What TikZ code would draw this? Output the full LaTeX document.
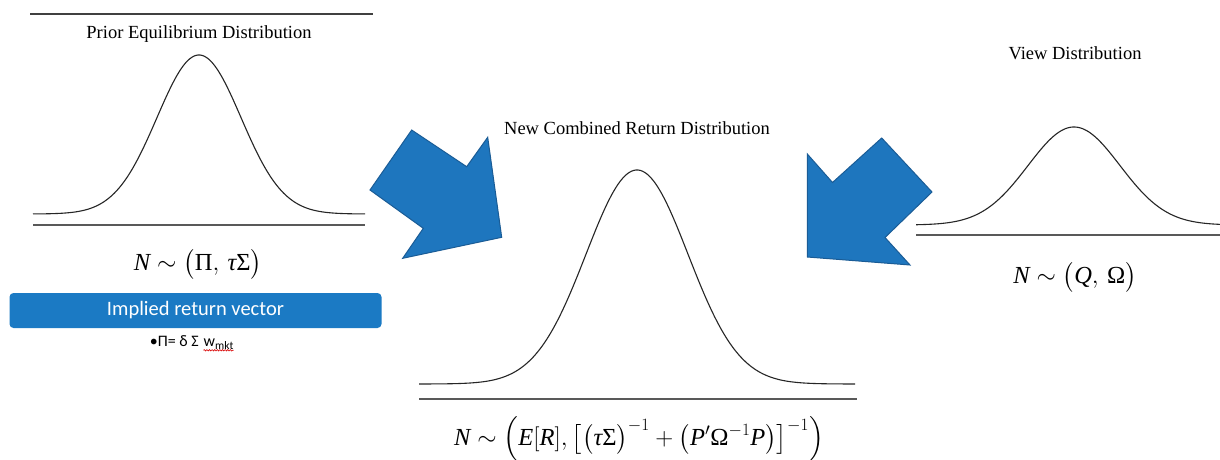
\documentclass[tikz,border=0pt]{standalone}
\usepackage{amsmath}
\usepackage{fontspec}
\setmainfont{Liberation Serif}
\newfontfamily\carl{Carlito}
\usetikzlibrary{decorations.pathmorphing}
\definecolor{arrowblue}{RGB}{30,118,190}
\definecolor{arrowedge}{RGB}{26,92,150}
\definecolor{boxblue}{RGB}{27,122,196}
\newcommand{\ti}[1]{\mbox{\itshape #1}}
\newcommand{\tu}[1]{\mbox{#1}}
\begin{document}
\begin{tikzpicture}[x=1pt,y=-1pt,
  curve/.style={line width=1.1pt, black!85},
  rule/.style={line width=1.6pt, black!65},
  title/.style={font=\fontsize{18.5}{22}\selectfont, inner sep=0pt},
  formula/.style={font=\fontsize{24.5}{29}\selectfont, inner sep=0pt},
  bigarrow/.style={fill=arrowblue, draw=arrowedge, line width=1pt, line join=miter}]
\fill[white] (0,0) rectangle (1220,459);
\useasboundingbox (0,0) rectangle (1220,459);

% ---------- Prior ----------
\draw[rule, black!75] (30,14) -- (373,14);
\node[title] (priortitle) at (199,34) {Prior Equilibrium Distribution};
\draw[curve] plot[domain=33:365, samples=160] (\x, {214 - 159*exp(-0.5*((\x-199)/42)^2)});
\draw[rule] (33,225) -- (365,225);
\node[formula] (priorf) at (198,264) {$\ti{N}\sim\bigl(\tu{Π},\,\ti{τ}\tu{Σ}\bigr)$};
\node[fill=boxblue, rounded corners=4pt, minimum width=372pt, minimum height=35pt,
      text=white, font=\carl\fontsize{20.5}{24}\selectfont, inner sep=0pt] (implied) at (195.5,310.5) {Implied return vector};
\node[font=\carl\fontsize{16}{18}\selectfont, inner sep=0pt, anchor=base east] (bullet) at (199,346) {•Π= δ Σ};
\node[font=\carl\fontsize{16}{18}\selectfont, inner sep=0pt, anchor=base west] (wmkt) at ([xshift=4.5pt]bullet.base east) {w\raisebox{-3pt}{\fontsize{11.5}{12}\selectfont mkt}};
\draw[red!85!black, line width=0.6pt, decorate, decoration={snake, amplitude=0.7pt, segment length=2.6pt}]
  ([yshift=-1pt]wmkt.south west) -- ([yshift=-1pt]wmkt.south east);

% ---------- Combined ----------
\node[title] (newtitle) at (637,128) {New Combined Return Distribution};
\draw[curve] plot[domain=419:855, samples=200] (\x, {384 - 214*exp(-0.5*((\x-637)/51)^2)});
\draw[rule] (419,399) -- (857,399);
\node[formula] (newf) at (639,439) {$\ti{N}\sim\Bigl(\ti{E}[\ti{R}],\bigl[\bigl(\ti{τ}\tu{Σ}\bigr)^{-1}+\bigl(\ti{P}'\tu{Ω}^{-1}\ti{P}\bigr)\bigr]^{-1}\Bigr)$};

% ---------- View ----------
\node[title] (viewtitle) at (1075,53) {View Distribution};
\draw[curve] plot[domain=916:1220, samples=160] (\x, {225 - 98*exp(-0.5*((\x-1074)/46)^2)});
\draw[rule] (916,235) -- (1220,235);
\node[formula] (viewf) at (1075,277) {$\ti{N}\sim\bigl(\ti{Q},\,\tu{Ω}\bigr)$};

% ---------- Block arrows ----------
\draw[bigarrow] (370,190) -- (411.7,130) -- (466.7,166.7) -- (487.7,137.3) -- (501.7,237.3) -- (402.7,258.3) -- (423.3,228.3) -- cycle;
\draw[bigarrow] (881.7,138) -- (932,192) -- (885,237.5) -- (910,265) -- (807.3,257) -- (807.3,154) -- (832.5,182.5) -- cycle;
\end{tikzpicture}
\end{document}
